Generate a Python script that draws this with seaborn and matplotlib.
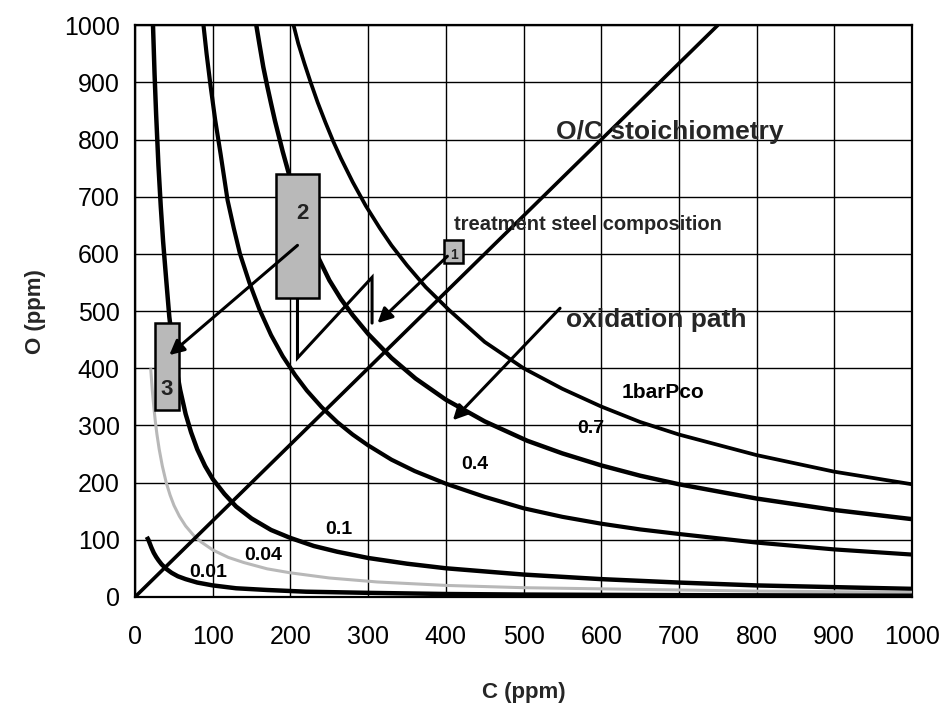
import matplotlib
matplotlib.use("Agg")
import matplotlib.pyplot as plt
import seaborn as sns
from matplotlib.patches import Rectangle

sns.set_theme(style="white")
plt.rcParams['font.family'] = ['Liberation Sans', 'DejaVu Sans']

# ---- data (C ppm, O ppm) ----
c_1bar = [204, 210, 218, 226, 235, 245, 255, 265, 280, 297, 315, 330, 350, 374, 404, 450, 500, 550, 600, 650, 700, 800, 900, 1000]
o_1bar = [1000, 968, 933, 900, 865, 830, 797, 767, 726, 684, 645, 615, 580, 542, 502, 446, 400, 364, 333, 306, 284, 248, 219, 197]

c_07 = [156, 160, 165, 170, 175, 180, 190, 200, 212, 224, 236, 250, 265, 280, 300, 330, 361, 400, 450, 505, 550, 600, 650, 700, 800, 900, 1000]
o_07 = [1000, 967, 927, 894, 863, 833, 779, 730, 675, 630, 593, 554, 521, 493, 460, 418, 382, 345, 307, 273, 251, 230, 212, 197, 172, 152, 136]

c_04 = [88, 92, 97, 103, 110, 119, 127, 135, 147, 160, 175, 190, 206, 221, 240, 260, 280, 300, 330, 360, 400, 450, 500, 550, 600, 650, 700, 800, 900, 1000]
o_04 = [1000, 950, 895, 835, 775, 694, 645, 600, 550, 503, 458, 421, 388, 361, 332, 306, 284, 265, 240, 220, 198, 175, 155, 140, 128, 118, 110, 95, 83, 74]

c_01 = [23, 25, 27, 30, 33, 36, 40, 44, 48, 53, 58, 65, 72, 80, 90, 100, 115, 130, 150, 175, 200, 230, 260, 300, 350, 400, 500, 600, 700, 800, 900, 1000]
o_01 = [1000, 915, 845, 755, 683, 622, 555, 490, 445, 400, 362, 320, 288, 258, 229, 206, 180, 158, 137, 117, 103, 89, 79, 68, 58, 50, 39, 31, 25, 20, 17, 14]

c_004 = [20, 22, 24, 26, 28, 31, 35, 40, 45, 50, 57, 65, 75, 85, 100, 120, 140, 170, 200, 250, 312, 400, 500, 600, 700, 800, 900, 1000]
o_004 = [400, 363, 333, 307, 285, 258, 229, 200, 178, 160, 141, 124, 108, 96, 82, 69, 60, 49, 42, 33, 26, 20, 16, 14, 12, 10, 9, 8]

c_001 = [15, 17, 19, 21, 24, 27, 30, 34, 40, 47, 55, 65, 80, 100, 130, 170, 220, 300, 400, 500, 700, 1000]
o_001 = [105, 100, 93, 86, 77, 70, 64, 57, 49, 42, 36, 31, 25, 20, 15, 12, 9, 7, 5, 4, 3, 2]

stoich_c = [0, 750]
stoich_o = [0, 1000]

curve_labels = ["1barPco", "0.7", "0.4", "0.1", "0.04", "0.01"]
label_c = [626, 587, 437, 262, 165, 94]
label_o = [358, 295, 231, 117, 73, 42]

# composition boxes: (C min, O min, C max, O max)
box_names = ["1", "2", "3"]
box_cmin = [397, 181, 25]
box_omin = [584, 523, 327]
box_cmax = [422, 237, 56]
box_omax = [624, 740, 479]
box_label_c = [411, 216, 40]
box_label_o = [598, 671, 362]

# oxidation path
arrow1_from = (402, 596); arrow1_to = (312, 479)
zig_c = [305, 305, 209, 209]
zig_o = [479, 559, 418, 615]
arrow2_from = (209, 615); arrow2_to = (44, 423)
arrow3_from = (547, 505); arrow3_to = (409, 309)

# ---- figure ----
fig = plt.figure(figsize=(9.45, 7.03), dpi=100)
ax = fig.add_axes([0.143, 0.151, 0.822, 0.813])

curves = [
    (c_1bar, o_1bar, "black", 2.7),
    (c_07, o_07, "black", 3.2),
    (c_04, o_04, "black", 3.0),
    (c_01, o_01, "black", 3.2),
    (c_004, o_004, "#b8b8b8", 2.2),
    (c_001, o_001, "black", 3.2),
]
for cx, oy, col, lw in curves:
    sns.lineplot(x=cx, y=oy, ax=ax, color=col, linewidth=lw, sort=False,
                 estimator=None, zorder=3, solid_joinstyle="round",
                 solid_capstyle="butt")

sns.lineplot(x=stoich_c, y=stoich_o, ax=ax, color="black", linewidth=2.6,
             sort=False, estimator=None, zorder=3)

# zigzag path
ax.plot(zig_c, zig_o, color="black", lw=2.2, zorder=4, solid_joinstyle="miter")
for a_from, a_to in [(arrow1_from, arrow1_to), (arrow2_from, arrow2_to), (arrow3_from, arrow3_to)]:
    ax.annotate("", xy=a_to, xytext=a_from,
                arrowprops=dict(arrowstyle="-|>", color="black", lw=2.2,
                                mutation_scale=22, shrinkA=0, shrinkB=0),
                zorder=6)

# boxes
for name, x0, y0, x1, y1, lc, lo in zip(box_names, box_cmin, box_omin, box_cmax, box_omax,
                                        box_label_c, box_label_o):
    ax.add_patch(Rectangle((x0, y0), x1 - x0, y1 - y0, facecolor="#b9b9b9",
                           edgecolor="black", lw=1.8, zorder=5))
    ax.text(lc, lo, name, ha="center", va="center", fontweight="bold",
            fontsize=10 if name == "1" else 16, color="#222222", zorder=7)

# curve labels
for t, xx, yy in zip(curve_labels, label_c, label_o):
    ax.text(xx, yy, t, ha="left" if t == "1barPco" else "center", va="center",
            fontsize=15 if t == "1barPco" else 14, fontweight="bold",
            color="black", zorder=7)

ax.text(542, 813, "O/C stoichiometry", fontsize=19, fontweight="bold", va="center", ha="left", zorder=7)
ax.text(410, 652, "treatment steel composition", fontsize=14.5, fontweight="bold", va="center", ha="left", zorder=7)
ax.text(555, 484, "oxidation path", fontsize=19, fontweight="bold", va="center", ha="left", zorder=7)

ax.set_xlim(0, 1000)
ax.set_ylim(0, 1000)
ax.set_xticks(range(0, 1001, 100))
ax.set_yticks(range(0, 1001, 100))
ax.grid(True, color="black", lw=1.0)
ax.set_axisbelow(True)
for s in ax.spines.values():
    s.set_color("black")
    s.set_linewidth(1.6)
ax.tick_params(axis="both", direction="out", length=5, width=1, color="black",
               labelsize=18, labelcolor="black")
ax.tick_params(axis="x", pad=15)
ax.tick_params(axis="y", pad=6)
ax.set_xlabel("C (ppm)", fontsize=16, fontweight="bold", labelpad=24)
ax.set_ylabel("O (ppm)", fontsize=16, fontweight="bold", labelpad=13)
fig.patch.set_facecolor("white")

fig.savefig("out.png", dpi=100, facecolor="white")
